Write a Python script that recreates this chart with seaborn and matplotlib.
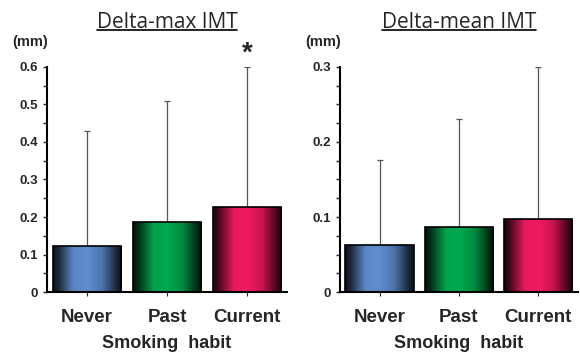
import numpy as np
import pandas as pd
import matplotlib
matplotlib.use("Agg")
import matplotlib.pyplot as plt
from matplotlib.colors import to_rgb
from matplotlib.lines import Line2D
from matplotlib.ticker import MultipleLocator
import seaborn as sns

# data
groups = ["Never", "Past", "Current"]
max_mean = [0.124, 0.187, 0.227]
max_sd = [0.306, 0.323, 0.373]
avg_mean = [0.063, 0.087, 0.097]
avg_sd = [0.113, 0.143, 0.203]
bar_colors = ["#5b87c6", "#00a24c", "#e8195c"]

sns.set_style("ticks")
plt.rcParams['font.family'] = ['Liberation Sans', 'DejaVu Sans']

fig = plt.figure(figsize=(5.8, 3.54), dpi=100)
ax1 = fig.add_axes([0.081, 0.175, 0.414, 0.636])
ax2 = fig.add_axes([0.586, 0.175, 0.41, 0.636])


def gradient_bars(ax, bars):
    # dark edges, bright centre, like the original shaded bars
    t = np.linspace(0, 1, 200)
    f = np.interp(t, [0, 0.08, 0.3, 0.5, 0.72, 0.92, 1],
                  [0.12, 0.3, 1.0, 1.04, 0.85, 0.3, 0.12])
    for bar, c in zip(bars, bar_colors):
        rgb = np.clip(np.outer(f, to_rgb(c)), 0, 1)
        img = rgb[np.newaxis, :, :]
        x0, y0 = bar.get_x(), bar.get_y()
        w, h = bar.get_width(), bar.get_height()
        im = ax.imshow(img, extent=[x0, x0 + w, y0, y0 + h], aspect="auto",
                       zorder=bar.get_zorder() + 0.1, interpolation="bilinear")
        im.set_clip_path(bar)
        bar.set_facecolor("none")
        edge = plt.Rectangle((x0, y0), w, h, fill=False, ec="black", lw=1.2,
                             zorder=bar.get_zorder() + 0.2)
        ax.add_patch(edge)


def panel(ax, means, sds, top, minor, title):
    df = pd.DataFrame({"group": groups, "value": means})
    ax.errorbar(range(3), means, yerr=[[0, 0, 0], sds], fmt="none",
                ecolor="#555555", elinewidth=0.9, capsize=2, capthick=0.9, zorder=1)
    sns.barplot(data=df, x="group", y="value", width=0.86, ax=ax, zorder=2,
                color="white")
    gradient_bars(ax, ax.patches[:3])
    ax.set_xlim(-0.5, 2.5)
    ax.set_ylim(0, top)
    ax.yaxis.set_major_locator(MultipleLocator(0.1))
    ax.yaxis.set_minor_locator(MultipleLocator(minor))
    ax.yaxis.set_major_formatter(plt.FuncFormatter(lambda v, p: "0" if v == 0 else f"{v:.1f}"))
    ax.tick_params(axis="y", which="both", length=3, width=1, labelsize=9.5)
    ax.tick_params(axis="x", length=3, width=0.8, labelsize=13.5, pad=9)
    for lab in ax.get_xticklabels() + ax.get_yticklabels():
        lab.set_fontweight("bold")
    for s in ["top", "right"]:
        ax.spines[s].set_visible(False)
    for s in ["left", "bottom"]:
        ax.spines[s].set_linewidth(1.5)
        ax.spines[s].set_color("black")
    ax.set_xlabel("Smoking  habit", fontsize=13, fontweight="bold", labelpad=7)
    ax.set_ylabel("")
    ax.text(-0.07, 1.08, "(mm)", transform=ax.transAxes, fontsize=10.5,
            fontweight="bold", ha="center", va="bottom")
    t = ax.text(0.5, 1.15, title, transform=ax.transAxes, fontsize=15,
                ha="center", va="bottom", family=["Open Sans", "DejaVu Sans"])
    return t


t1 = panel(ax1, max_mean, max_sd, 0.6, 0.05, "Delta-max IMT")
t2 = panel(ax2, avg_mean, avg_sd, 0.3, 0.025, "Delta-mean IMT")
ax1.text(2, 0.6, "*", fontsize=20, fontweight="bold", ha="center", va="bottom")

# underline the titles
fig.canvas.draw()
r = fig.canvas.get_renderer()
inv = fig.transFigure.inverted()
for t in [t1, t2]:
    bb = t.get_window_extent(renderer=r).transformed(inv)
    fig.add_artist(Line2D([bb.x0, bb.x1], [bb.y0 + 0.008, bb.y0 + 0.008],
                          color="black", lw=1.2, transform=fig.transFigure))

fig.savefig("out.png", dpi=100)
